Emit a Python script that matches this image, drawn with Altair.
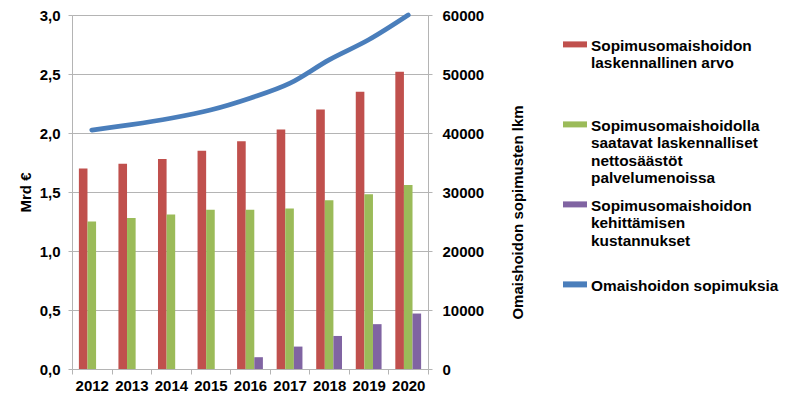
import altair as alt
import pandas as pd

years = ["2012", "2013", "2014", "2015", "2016", "2017", "2018", "2019", "2020"]
arvo = [1.70, 1.74, 1.78, 1.85, 1.93, 2.03, 2.20, 2.35, 2.52]
saasto = [1.25, 1.28, 1.31, 1.35, 1.35, 1.36, 1.43, 1.48, 1.56]
kustannus = [None, None, None, None, 0.10, 0.19, 0.28, 0.38, 0.47]
sopimukset = [40500, 41400, 42500, 43900, 45900, 48400, 52400, 55800, 60000]

series = [
    "Sopimusomaishoidon laskennallinen arvo",
    "Sopimusomaishoidolla saatavat laskennalliset nettosäästöt palvelumenoissa",
    "Sopimusomaishoidon kehittämisen kustannukset",
    "Omaishoidon sopimuksia",
]
legend_lines = [
    ["Sopimusomaishoidon", "laskennallinen arvo"],
    ["Sopimusomaishoidolla", "saatavat laskennalliset", "nettosäästöt", "palvelumenoissa"],
    ["Sopimusomaishoidon", "kehittämisen", "kustannukset"],
    ["Omaishoidon sopimuksia"],
]
colors = ["#C0504D", "#9BBB59", "#8064A2", "#4A7EBB"]

rows = []
for vals, name in zip([arvo, saasto, kustannus], series[:3]):
    for y, v in zip(years, vals):
        if v is not None:
            rows.append({"vuosi": y, "sarja": name, "arvo": v})
bars_df = pd.DataFrame(rows)
line_df = pd.DataFrame({"vuosi": years, "sarja": series[3], "lkm": sopimukset})

# legend label expression: pad every label to 4 lines
def pad(lines):
    lines = list(lines) + [" "] * (4 - len(lines))
    return "[" + ",".join("'" + l + "'" for l in lines) + "]"

label_expr = "{" + ",".join("'" + s + "':" + pad(l) for s, l in zip(series, legend_lines)) + "}[datum.label]"

FONT = "Liberation Sans"
GRID = "#b4b4b4"

x_enc = alt.X(
    "vuosi:N",
    sort=years,
    title=None,
    scale=alt.Scale(paddingInner=0, paddingOuter=0),
    axis=alt.Axis(
        labelAngle=0, tickBand="extent", domainColor=GRID, tickColor=GRID,
        tickSize=5, labelPadding=4, labelFontSize=15, labelFontWeight="bold",
        labelColor="#000", labelFont=FONT,
    ),
)

bars = alt.Chart(bars_df).mark_bar().encode(
    x=x_enc,
    xOffset=alt.XOffset("sarja:N", sort=series[:3],
                        scale=alt.Scale(paddingOuter=0.8, paddingInner=0)),
    y=alt.Y(
        "arvo:Q",
        title="Mrd €",
        scale=alt.Scale(domain=[0, 3]),
        axis=alt.Axis(
            values=[0, 0.5, 1, 1.5, 2, 2.5, 3],
            labelExpr="replace(format(datum.value, '.1f'), '.', ',')",
            grid=True, gridColor=GRID, domainColor=GRID, tickColor=GRID,
            tickSize=4, labelPadding=8, labelFontSize=15, labelFontWeight="bold",
            labelColor="#000", labelFont=FONT,
            titleFontSize=15, titleFontWeight="bold", titleFont=FONT, titleColor="#000",
            titleAngle=270, titleX=-47, titleY=177, titleAlign="center", titleBaseline="middle",
        ),
    ),
    color=alt.Color(
        "sarja:N",
        scale=alt.Scale(domain=series, range=colors),
        legend=alt.Legend(
            title=None, orient="none", legendX=491, legendY=12,
            symbolType="M-1,0.2H1V0.7H-1Z", symbolSize=576, symbolStrokeWidth=0,
            labelExpr=label_expr, labelBaseline="top",
            labelFontSize=15.4, labelFontWeight="bold", labelFont=FONT, labelColor="#000",
            labelLimit=400, labelOffset=4, rowPadding=0, padding=0,
        ),
    ),
)

line = alt.Chart(line_df).mark_line(
    interpolate="monotone", strokeWidth=4.8, strokeCap="round"
).encode(
    x=alt.X("vuosi:N", sort=years),
    y=alt.Y(
        "lkm:Q",
        title="Omaishoidon sopimusten lkm",
        scale=alt.Scale(domain=[0, 60000]),
        axis=alt.Axis(
            orient="right", values=[0, 10000, 20000, 30000, 40000, 50000, 60000],
            format="d", grid=False, domainColor=GRID, tickColor=GRID,
            tickSize=4, labelPadding=10, labelFontSize=15, labelFontWeight="bold",
            labelColor="#000", labelFont=FONT,
            titleFontSize=15, titleFontWeight="bold", titleFont=FONT, titleColor="#000",
            titleAngle=270, titleX=89, titleY=197, titleAlign="center", titleBaseline="middle",
        ),
    ),
    color=alt.Color("sarja:N", legend=None),
)

chart = alt.layer(bars, line).resolve_scale(y="independent").properties(
    width=356, height=354,
    autosize=alt.AutoSizeParams(type="none"),
    padding={"left": 64, "top": 7, "right": 355, "bottom": 25},
).configure_view(stroke=None).configure(background="white")

chart.save("out.html", embed_options={"renderer": "svg", "actions": False})
